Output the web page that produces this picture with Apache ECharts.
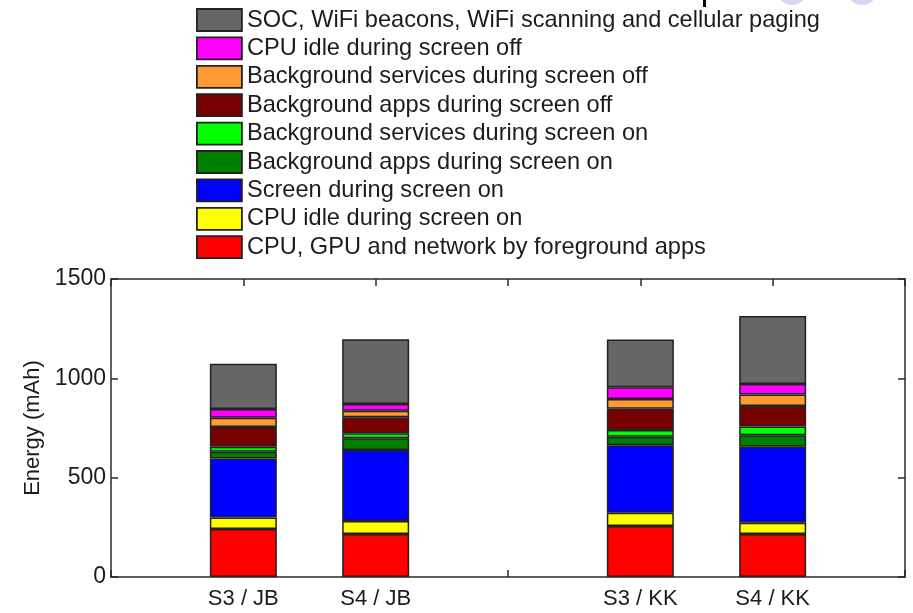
<!DOCTYPE html>
<html>
<head>
<meta charset="utf-8">
<script src="https://cdn.jsdelivr.net/npm/echarts@6/dist/echarts.min.js"></script>
<style>
  html, body { margin: 0; padding: 0; background: #fff; }
  #chart { width: 913px; height: 613px; }
</style>
</head>
<body>
<div id="chart"></div>
<script>
// Devices / Android versions, placed on integer slots 1,2 and 4,5 of a 0..6 axis
const slots = ['', 'S3 / JB', 'S4 / JB', '', 'S3 / KK', 'S4 / KK', ''];
const barSlots = [1, 2, 4, 5];

// Energy per component (mAh), one value per bar, bottom of the stack first
const fgApps       = [242, 216, 257, 216];
const cpuIdleOn    = [57, 66, 67, 57];
const screenOn     = [298, 357, 339, 383];
const bgAppsOn     = [34, 59, 43, 57];
const bgServOn     = [25, 25, 34, 44];
const bgAppsOff    = [99, 81, 107, 104];
const bgServOff    = [47, 33, 49, 58];
const cpuIdleOff   = [44, 34, 59, 52];
const socPaging    = [227, 326, 241, 343];

const yTicks = [0, 500, 1000, 1500];

const components = [
  { name: 'CPU, GPU and network by foreground apps', color: '#ff0000', values: fgApps },
  { name: 'CPU idle during screen on', color: '#ffff00', values: cpuIdleOn },
  { name: 'Screen during screen on', color: '#0000ff', values: screenOn },
  { name: 'Background apps during screen on', color: '#007f00', values: bgAppsOn },
  { name: 'Background services during screen on', color: '#00ff00', values: bgServOn },
  { name: 'Background apps during screen off', color: '#770000', values: bgAppsOff },
  { name: 'Background services during screen off', color: '#ff9933', values: bgServOff },
  { name: 'CPU idle during screen off', color: '#ff00ff', values: cpuIdleOff },
  { name: 'SOC, WiFi beacons, WiFi scanning and cellular paging', color: '#666666', values: socPaging }
];

function toSlots(values) {
  const out = slots.map(() => '-');
  barSlots.forEach((s, i) => { out[s] = values[i]; });
  return out;
}

const FONT = '"Liberation Sans", Arial, Helvetica, sans-serif';
const TEXT = '#1c1c1c';
const AXIS = '#2a2a2a';

const series = components.map(c => ({
  name: c.name,
  type: 'bar',
  stack: 'energy',
  barWidth: 67,
  data: toSlots(c.values),
  itemStyle: { color: c.color, borderColor: '#222', borderWidth: 1.5 },
  emphasis: { disabled: true },
  animation: false
}));

// Boxed axes: every side has a line and inward ticks
function boxAxis(extra) {
  return Object.assign({
    axisLine: { show: true, onZero: false, lineStyle: { color: AXIS, width: 1.5 } },
    axisTick: { show: true, inside: true, length: 7, lineStyle: { color: AXIS, width: 1.5 } },
    splitLine: { show: false }
  }, extra);
}

const chart = echarts.init(document.getElementById('chart'), null, { renderer: 'canvas' });
chart.setOption({
  animation: false,
  backgroundColor: '#ffffff',
  textStyle: { fontFamily: FONT },
  grid: { left: 111, right: 8, top: 279, bottom: 36, containLabel: false },
  legend: {
    orient: 'vertical',
    left: 196,
    top: 8,
    padding: 0,
    itemWidth: 45,
    itemHeight: 22,
    itemGap: 4.4,
    icon: 'rect',
    selectedMode: false,
    data: components.map(c => c.name).reverse(),
    itemStyle: { borderColor: '#222', borderWidth: 1.8 },
    textStyle: { fontFamily: FONT, fontSize: 23.6, color: TEXT, padding: [0, 0, 0, 0] }
  },
  xAxis: [
    boxAxis({
      type: 'category',
      data: slots,
      boundaryGap: false,
      position: 'bottom',
      axisLabel: { show: true, interval: 0, fontFamily: FONT, fontSize: 22, color: TEXT, margin: 11 }
    }),
    boxAxis({
      type: 'category',
      data: slots,
      boundaryGap: false,
      position: 'top',
      axisLabel: { show: false }
    })
  ],
  yAxis: [
    boxAxis({
      type: 'value',
      min: yTicks[0],
      max: yTicks[yTicks.length - 1],
      interval: 500,
      position: 'left',
      name: 'Energy (mAh)',
      nameLocation: 'middle',
      nameRotate: 90,
      nameGap: 64,
      nameTextStyle: { fontFamily: FONT, fontSize: 22, color: TEXT },
      axisLabel: { show: true, fontFamily: FONT, fontSize: 23, color: TEXT, margin: 5,
                   formatter: v => String(v) }
    }),
    boxAxis({
      type: 'value',
      min: yTicks[0],
      max: yTicks[yTicks.length - 1],
      interval: 500,
      position: 'right',
      axisLabel: { show: false }
    })
  ],
  series: series,
  graphic: [
    { type: 'rect', shape: { x: 703, y: 0, width: 3, height: 7 }, style: { fill: '#000' }, silent: true },
    { type: 'circle', shape: { cx: 792, cy: -11, r: 16 }, style: { fill: '#d6d6ee' }, silent: true },
    { type: 'circle', shape: { cx: 862, cy: -11, r: 16 }, style: { fill: '#d6d6ee' }, silent: true }
  ]
});
</script>
</body>
</html>
